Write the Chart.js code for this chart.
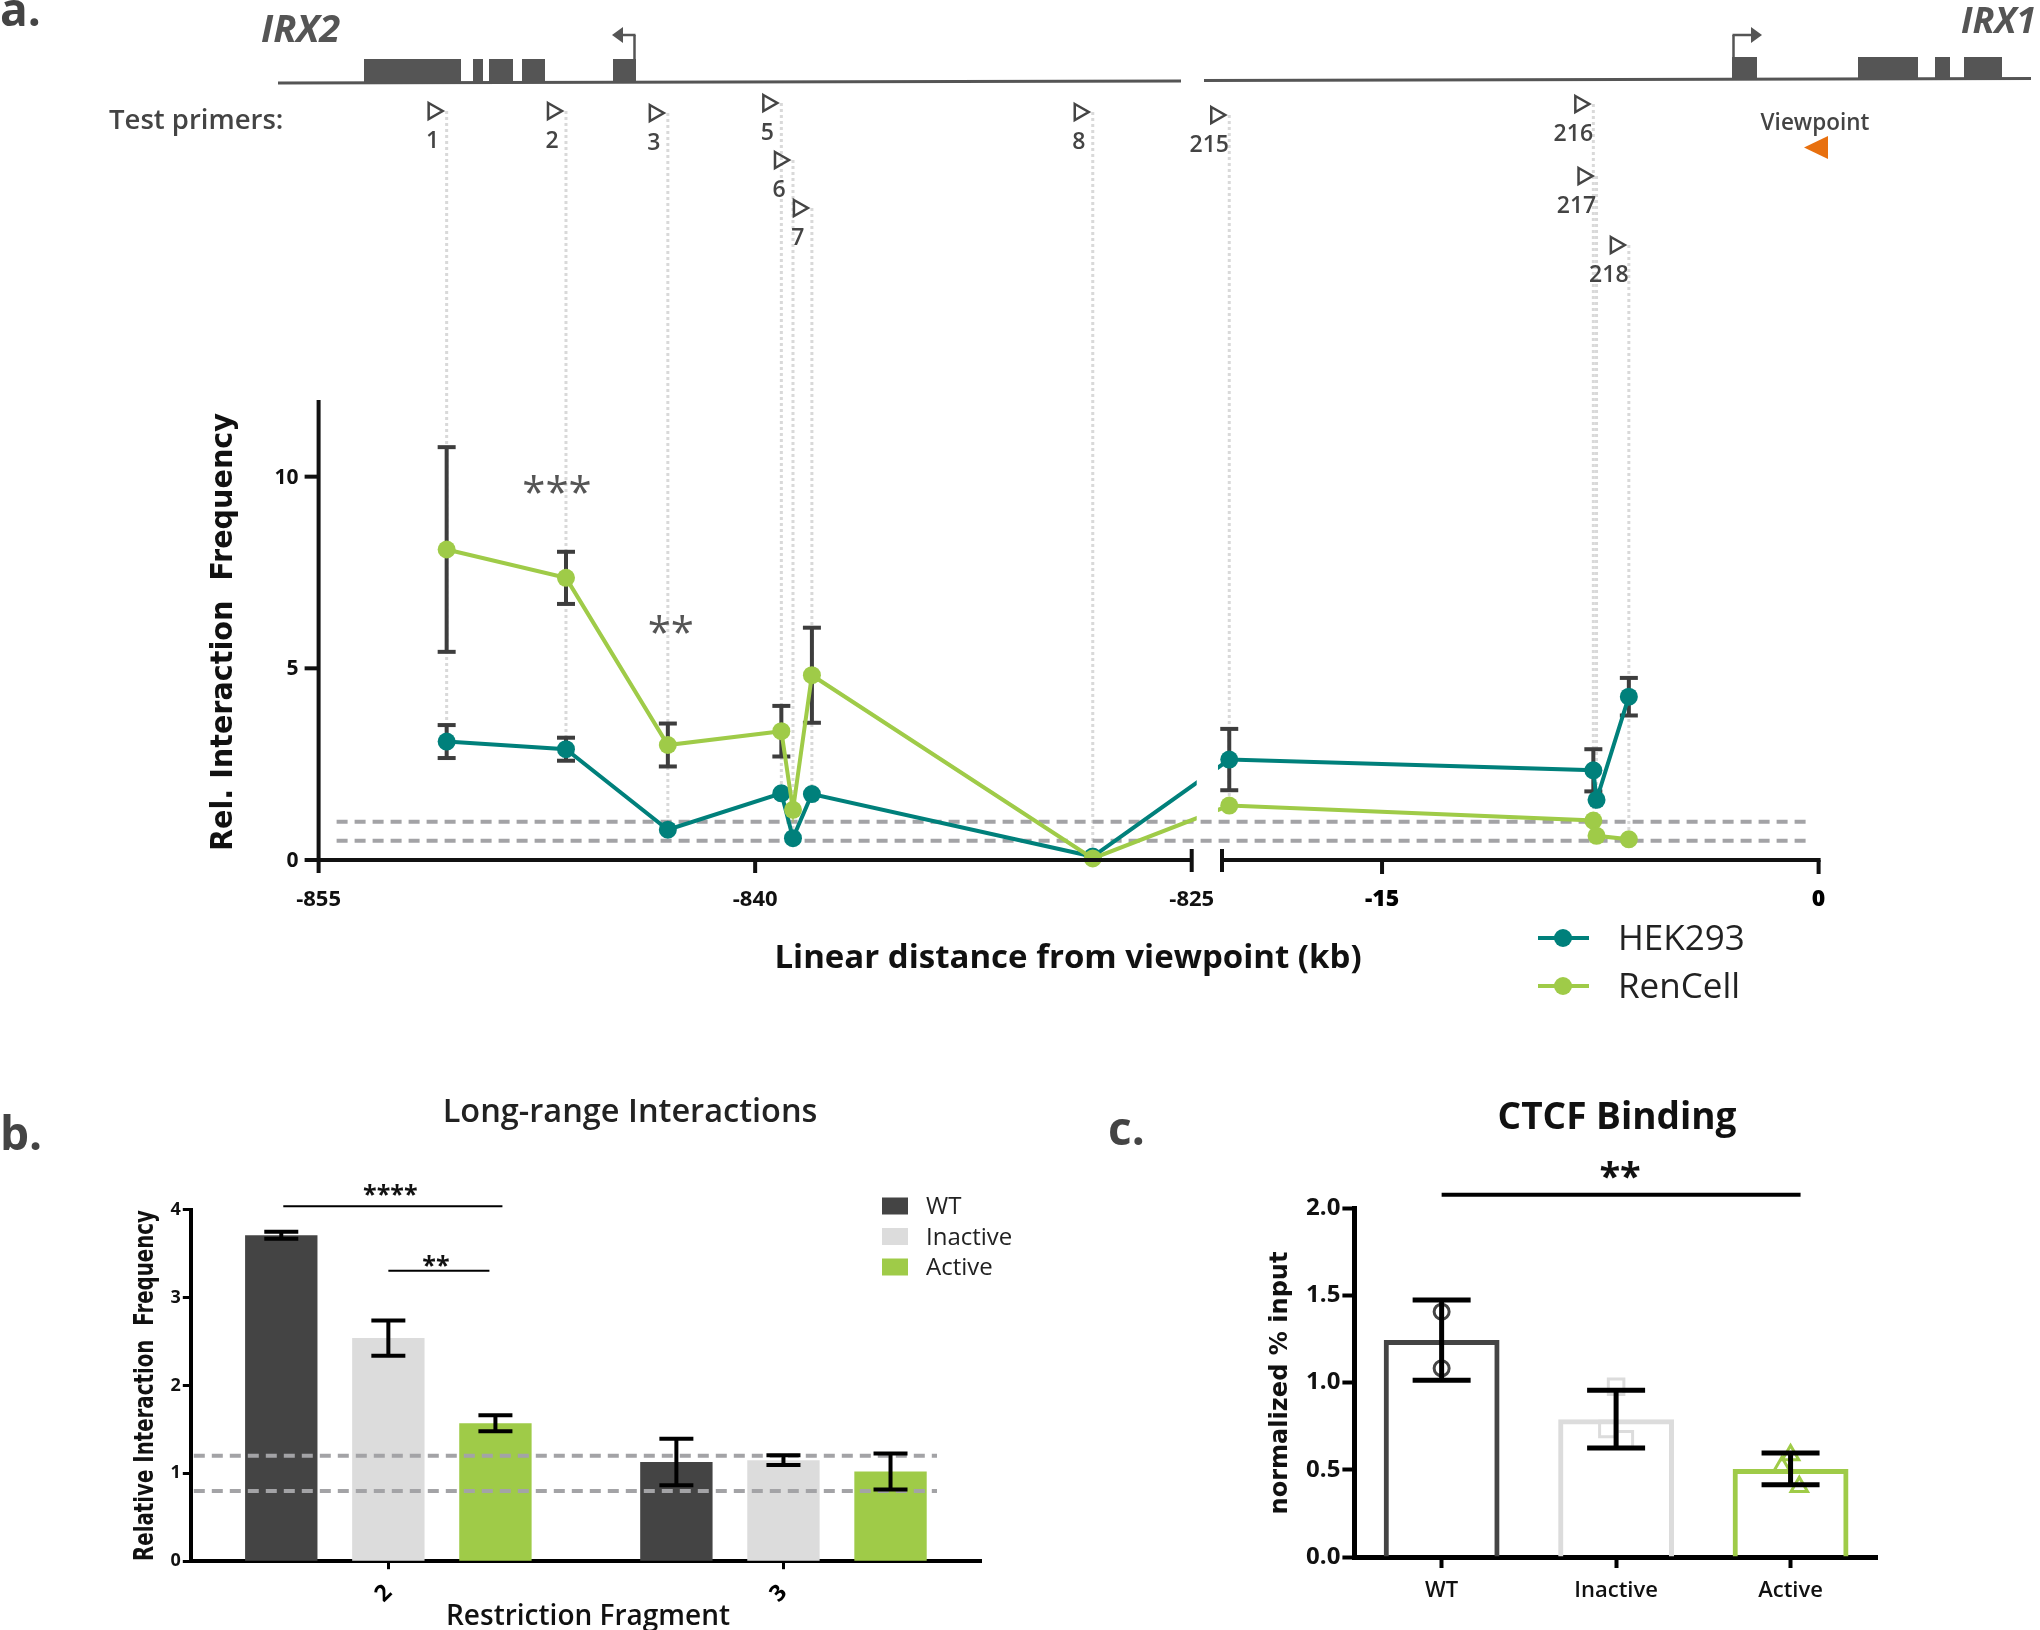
<!DOCTYPE html>
<html lang="en">
<head>
<meta charset="UTF-8">
<title>IRX2 - IRX1 long-range interactions</title>
<script src="https://cdn.jsdelivr.net/npm/chart.js"></script>
<style>
  body { margin: 0; background: #fff; }
  #page { position: relative; width: 2040px; height: 1630px; overflow: hidden; background: #fff; }
  .box { position: absolute; }
</style>
</head>
<body>
<div id="page">
  <div class="box" style="left:0;top:0;width:2040px;height:1010px"><canvas id="chartA"></canvas></div>
  <div class="box" style="left:0;top:1040px;width:1060px;height:590px"><canvas id="chartB"></canvas></div>
  <div class="box" style="left:1080px;top:1040px;width:960px;height:590px"><canvas id="chartC"></canvas></div>
</div>

<script>
// ---------------- data: panel a (3C, rel. interaction frequency) ----------------
const primerNames = ['1', '2', '3', '5', '6', '7', '8', '215', '216', '217', '218'];
const primerKb = [-850.6, -846.5, -843.0, -839.1, -838.7, -838.05, -828.4, -20.25, -7.74, -7.63, -6.52];
const hekMean = [3.09, 2.89, 0.79, 1.74, 0.57, 1.72, 0.09, 2.62, 2.34, 1.57, 4.26];
const hekSem = [0.43, 0.30, 0, 0, 0, 0, 0, 0.80, 0.55, 0, 0.49];
const renMean = [8.10, 7.36, 3.00, 3.36, 1.31, 4.82, 0.04, 1.42, 1.03, 0.63, 0.54];
const renSem = [2.67, 0.68, 0.56, 0.66, 0, 1.24, 0, 0, 0, 0, 0];
const bgLevelsA = [1.0, 0.5];
const xTicksLeft = [-855, -840, -825];
const xTicksRight = [-15, 0];
const yTicksA = [0, 5, 10];
const sigA = [{ primer: 1, text: '***', y: 10 }, { primer: 2, text: '**', y: 6.33 }];

// ---------------- data: panel b (restriction fragments) ----------------
const fragments = ['2', '3'];
const wtFrag = [3.71, 1.13];
const wtFragSem = [0.04, 0.265];
const inactiveFrag = [2.54, 1.15];
const inactiveFragSem = [0.20, 0.055];
const activeFrag = [1.57, 1.02];
const activeFragSem = [0.09, 0.205];
const bgLevelsB = [1.2, 0.8];

// ---------------- data: panel c (CTCF ChIP) ----------------
const groups = ['WT', 'Inactive', 'Active'];
const ctcfMean = [1.243, 0.79, 0.505];
const ctcfSem = [0.23, 0.166, 0.091];
const wtReps = [1.406, 1.081];
const inactiveReps = [0.976, 0.733, 0.674];
const activeReps = [0.585, 0.517, 0.403];

// ---------------- look ----------------
const teal = '#00807b';
const green = '#9fcb48';
const wtGrey = '#444444';
const lightGrey = '#dcdcdc';
const OS = "'Open Sans', 'Liberation Sans', sans-serif";
const DV = "'DejaVu Sans', 'Liberation Sans', sans-serif";

// broken x axis of panel a: left part in kb, then a small gap, then the last ~20 kb
const leftSegment = [-855, -825];
const rightSegment = [-20.5, 0];
const breakGap = 1.04;
const toAxis = kb => kb >= rightSegment[0] ? leftSegment[1] + breakGap + (kb - rightSegment[0]) : kb;

// header rows of the primer triangles (px)
const primerRowY = [111, 111, 113, 103, 160, 208, 112, 115, 104, 176, 245];

function seg(ctx, x1, y1, x2, y2) {
  ctx.beginPath(); ctx.moveTo(x1, y1); ctx.lineTo(x2, y2); ctx.stroke();
}
function text(ctx, s, x, y, font, color, align, base) {
  ctx.font = font; ctx.fillStyle = color;
  ctx.textAlign = align || 'left'; ctx.textBaseline = base || 'alphabetic';
  ctx.fillText(s, x, y);
}
function rotTitle(ctx, s, cx, cy, font, color, length) {
  ctx.save();
  ctx.font = font; ctx.fillStyle = color;
  ctx.translate(cx, cy); ctx.rotate(-Math.PI / 2);
  const w = ctx.measureText(s).width;
  ctx.scale(length / w, 1);
  ctx.textAlign = 'center'; ctx.textBaseline = 'middle';
  ctx.fillText(s, 0, 0);
  ctx.restore();
}
function errBar(ctx, x, yTop, yBot, half) {
  seg(ctx, x, yTop, x, yBot);
  seg(ctx, x - half, yTop, x + half, yTop);
  seg(ctx, x - half, yBot, x + half, yBot);
}

// ---------------- panel a ----------------
function drawLevels(ctx, chart) {
  const ys = chart.scales.y;
  ctx.strokeStyle = '#a3a3a6'; ctx.lineWidth = 4; ctx.setLineDash([11, 7]);
  bgLevelsA.forEach(v => seg(ctx, chart.chartArea.left + 18, ys.getPixelForValue(v), 1808, ys.getPixelForValue(v)));
  ctx.setLineDash([]);
}

const panelA = {
  id: 'panelA',
  beforeDatasetsDraw(chart) {
    const ctx = chart.ctx, xs = chart.scales.x, ys = chart.scales.y;
    const px = kb => xs.getPixelForValue(toAxis(kb));
    ctx.save();
    // dotted guides from each primer down to its data
    ctx.strokeStyle = '#d9d9d9'; ctx.lineWidth = 3; ctx.setLineDash([3, 3]);
    primerKb.forEach((kb, i) => {
      seg(ctx, px(kb), primerRowY[i], px(kb), ys.getPixelForValue(Math.min(hekMean[i], renMean[i])));
    });
    drawLevels(ctx, chart);
    // error bars (SEM)
    ctx.strokeStyle = '#3d3d3d'; ctx.lineWidth = 4;
    [[hekMean, hekSem], [renMean, renSem]].forEach(([m, s]) => {
      m.forEach((v, i) => {
        if (!s[i]) return;
        errBar(ctx, px(primerKb[i]), ys.getPixelForValue(v + s[i]), ys.getPixelForValue(v - s[i]), 9);
      });
    });
    ctx.restore();
  },
  afterDatasetsDraw(chart) {
    const ctx = chart.ctx, xs = chart.scales.x, ys = chart.scales.y;
    const px = kb => xs.getPixelForValue(toAxis(kb));
    const y0 = ys.getPixelForValue(0), yTop = ys.getPixelForValue(12);
    const xl0 = px(leftSegment[0]), xl1 = px(leftSegment[1]);
    const xr0 = px(rightSegment[0]), xr1 = px(rightSegment[1]);
    ctx.save();

    // axis break: cut the lines in the gap, keep the dashed levels
    ctx.fillStyle = '#fff';
    ctx.fillRect(xl1 + 5, yTop, xr0 - 9 - xl1, y0 - 12 - yTop);
    ctx.save();
    ctx.beginPath(); ctx.rect(xl1 + 5, 0, xr0 - 9 - xl1, y0 - 12); ctx.clip();
    drawLevels(ctx, chart);
    ctx.restore();

    // axes
    ctx.strokeStyle = '#111'; ctx.lineWidth = 4; ctx.lineCap = 'butt';
    seg(ctx, xl0, yTop, xl0, y0 + 2);
    seg(ctx, xl0 - 2, y0, xl1, y0);
    seg(ctx, xr0, y0, xr1 + 2, y0);
    yTicksA.forEach(v => {
      const y = ys.getPixelForValue(v);
      seg(ctx, xl0 - 14, y, xl0, y);
      text(ctx, String(v), xl0 - 20, y + 7, 'bold 21px ' + OS, '#111', 'right');
    });
    xTicksLeft.forEach(v => {
      const x = px(v);
      if (v === leftSegment[1]) seg(ctx, x, y0 - 11, x, y0 + 12);
      else seg(ctx, x, y0, x, y0 + 13);
      text(ctx, String(v), x, y0 + 46, 'bold 22px ' + OS, '#111', 'center');
    });
    seg(ctx, xr0, y0 - 11, xr0, y0 + 12);
    xTicksRight.forEach(v => {
      const x = px(v);
      seg(ctx, x, y0, x, y0 + 14);
      text(ctx, String(v), x, y0 + 46, '800 23px ' + OS, '#000', 'center');
    });

    // axis titles
    rotTitle(ctx, 'Rel. Interaction  Frequency', 224, (yTop + y0) / 2 + 2, 'bold 31px ' + DV, '#111', 438);
    text(ctx, 'Linear distance from viewpoint (kb)', 1068, 968, 'bold 33px ' + OS, '#111', 'center');

    // significance stars
    sigA.forEach(s => {
      const dx = s.text.length === 3 ? -9 : 3;
      text(ctx, s.text, px(primerKb[s.primer]) + dx, ys.getPixelForValue(s.y) + 30, '42px ' + OS, '#555', 'center');
    });

    // legend
    [['HEK293', teal, 938], ['RenCell', green, 986]].forEach(([name, col, y]) => {
      ctx.strokeStyle = col; ctx.lineWidth = 4;
      seg(ctx, 1538, y, 1589, y);
      ctx.fillStyle = col; ctx.beginPath(); ctx.arc(1563, y, 9, 0, Math.PI * 2); ctx.fill();
      text(ctx, name, 1618, y + 12, '35px ' + OS, '#222', 'left');
    });

    // gene track
    ctx.strokeStyle = '#555'; ctx.fillStyle = '#555'; ctx.lineWidth = 3;
    seg(ctx, 278, 83, 1181, 81);
    seg(ctx, 1204, 80.5, 2031, 78.5);
    [[364, 461], [473, 483], [489, 513], [522, 545], [613, 636]].forEach(([a, b]) => ctx.fillRect(a, 59, b - a, 24));
    [[1732, 1757], [1858, 1918], [1935, 1950], [1964, 2002]].forEach(([a, b]) => ctx.fillRect(a, 57, b - a, 22));
    ctx.lineWidth = 2.5;
    seg(ctx, 634.5, 60, 634.5, 35); seg(ctx, 635.5, 35, 620, 35);
    ctx.beginPath(); ctx.moveTo(612, 35); ctx.lineTo(623, 27); ctx.lineTo(623, 43); ctx.closePath(); ctx.fill();
    seg(ctx, 1733.5, 57, 1733.5, 35); seg(ctx, 1732.5, 35, 1752, 35);
    ctx.beginPath(); ctx.moveTo(1762, 35); ctx.lineTo(1751, 27); ctx.lineTo(1751, 43); ctx.closePath(); ctx.fill();
    text(ctx, 'IRX2', 261, 42, 'italic bold 38px ' + OS, '#555', 'left');
    text(ctx, 'IRX1', 1961, 33, 'italic bold 36px ' + OS, '#555', 'left');
    text(ctx, 'a.', 0, 26, 'bold 46px ' + OS, '#444', 'left');

    // primers
    text(ctx, 'Test primers:', 109, 129, '600 27.5px ' + OS, '#444', 'left');
    ctx.strokeStyle = '#444'; ctx.lineWidth = 2.5; ctx.lineJoin = 'miter';
    primerKb.forEach((kb, i) => {
      const x = px(kb), y = primerRowY[i];
      ctx.beginPath(); ctx.moveTo(x - 18, y - 8); ctx.lineTo(x - 4, y); ctx.lineTo(x - 18, y + 8); ctx.closePath(); ctx.stroke();
      const lx = primerNames[i].length > 1 ? x - 20 : x - 14;
      text(ctx, primerNames[i], lx, y + 37, '600 23px ' + OS, '#444', 'center');
    });
    text(ctx, 'Viewpoint', 1815, 130, '600 22.5px ' + OS, '#444', 'center');
    ctx.fillStyle = '#e8700f';
    ctx.beginPath(); ctx.moveTo(1804, 147.5); ctx.lineTo(1828, 136); ctx.lineTo(1828, 159); ctx.closePath(); ctx.fill();
    ctx.restore();
  }
};

const lineSet = (label, vals, col, order) => ({
  label, order,
  data: primerKb.map((kb, i) => ({ x: toAxis(kb), y: vals[i] })),
  borderColor: col, backgroundColor: col, pointBackgroundColor: col,
  borderWidth: 4, pointRadius: 9, pointHoverRadius: 9, pointBorderWidth: 0,
  tension: 0, clip: false
});

new Chart(document.getElementById('chartA'), {
  type: 'line',
  data: { datasets: [lineSet('HEK293', hekMean, teal, 2), lineSet('RenCell', renMean, green, 1)] },
  options: {
    responsive: true, maintainAspectRatio: false, animation: false, events: [],
    layout: { padding: { left: 318.6, right: 221.4, top: 400, bottom: 150 } },
    plugins: { legend: { display: false }, tooltip: { enabled: false } },
    scales: {
      x: { type: 'linear', display: false, min: leftSegment[0], max: toAxis(rightSegment[1]) },
      y: { type: 'linear', display: false, min: 0, max: 12 }
    }
  },
  plugins: [panelA]
});

// ---------------- panel b ----------------
const panelB = {
  id: 'panelB',
  afterDatasetsDraw(chart) {
    const ctx = chart.ctx, ys = chart.scales.y, area = chart.chartArea;
    ctx.save();
    ctx.strokeStyle = '#a3a3a6'; ctx.lineWidth = 4; ctx.setLineDash([11, 7]);
    bgLevelsB.forEach(v => seg(ctx, area.left + 3, ys.getPixelForValue(v), area.right - 44, ys.getPixelForValue(v)));
    ctx.setLineDash([]);
    ctx.strokeStyle = '#000'; ctx.lineWidth = 4;
    [[wtFrag, wtFragSem], [inactiveFrag, inactiveFragSem], [activeFrag, activeFragSem]].forEach(([m, s], d) => {
      chart.getDatasetMeta(d).data.forEach((bar, i) => {
        errBar(ctx, bar.x, ys.getPixelForValue(m[i] + s[i]), ys.getPixelForValue(m[i] - s[i]), 17);
      });
    });
    // significance brackets
    const wt2 = chart.getDatasetMeta(0).data[0].x, in2 = chart.getDatasetMeta(1).data[0].x, ac2 = chart.getDatasetMeta(2).data[0].x;
    ctx.lineWidth = 2;
    seg(ctx, wt2 + 2, 166.3, ac2 + 7, 166.3);
    text(ctx, '****', (wt2 + ac2) / 2 + 2, 163, 'bold 25px ' + OS, '#111', 'center');
    seg(ctx, in2, 230.8, ac2 - 6, 230.8);
    text(ctx, '**', (in2 + ac2) / 2 - 6, 234, 'bold 25px ' + OS, '#111', 'center');
    // legend
    [['WT', wtGrey], ['Inactive', lightGrey], ['Active', green]].forEach(([n, c], i) => {
      const y = 166 + i * 30.5;
      ctx.fillStyle = c; ctx.fillRect(882, y - 8.5, 26, 17);
      text(ctx, n, 926, y + 8, '24px ' + OS, '#222', 'left');
    });
    text(ctx, 'Long-range Interactions', 630, 82, '600 32.5px ' + OS, '#222', 'center');
    text(ctx, 'b.', 0, 110, 'bold 46px ' + OS, '#444', 'left');
    rotTitle(ctx, 'Relative Interaction  Frequency', 146, (area.top + area.bottom) / 2, 'bold 26px ' + DV, '#111', 351);
    text(ctx, 'Restriction Fragment', 588, 585, '600 28px ' + OS, '#111', 'center');
    ctx.restore();
  }
};

new Chart(document.getElementById('chartB'), {
  type: 'bar',
  data: {
    labels: fragments,
    datasets: [
      { label: 'WT', data: wtFrag, backgroundColor: wtGrey },
      { label: 'Inactive', data: inactiveFrag, backgroundColor: lightGrey },
      { label: 'Active', data: activeFrag, backgroundColor: green }
    ]
  },
  options: {
    responsive: true, maintainAspectRatio: false, animation: false, events: [],
    categoryPercentage: 0.813, barPercentage: 0.676,
    layout: { padding: { left: 120.8, right: 79, top: 169.8, bottom: 0 } },
    plugins: { legend: { display: false }, tooltip: { enabled: false } },
    scales: {
      x: {
        afterFit: s => { s.height = 68.8; },
        grid: { display: true, drawOnChartArea: false, offset: false, tickLength: 8, tickWidth: 3, tickColor: '#000' },
        border: { display: true, color: '#000', width: 4 },
        ticks: { font: { family: OS, size: 23, weight: 'bold' }, color: '#000', minRotation: 45, maxRotation: 45, padding: 10 }
      },
      y: {
        min: 0, max: 4,
        afterFit: s => { s.width = 70; },
        grid: { display: true, drawOnChartArea: false, tickLength: 8, tickWidth: 3, tickColor: '#000' },
        border: { display: true, color: '#000', width: 4 },
        ticks: { stepSize: 1, font: { family: OS, size: 18, weight: 'bold' }, color: '#111', padding: 2 }
      }
    }
  },
  plugins: [panelB]
});

// ---------------- panel c ----------------
const panelC = {
  id: 'panelC',
  afterDatasetsDraw(chart) {
    const ctx = chart.ctx, ys = chart.scales.y;
    const bars = chart.getDatasetMeta(0).data;
    ctx.save();
    ctx.strokeStyle = '#000'; ctx.lineWidth = 5;
    bars.forEach((b, i) => {
      errBar(ctx, b.x, ys.getPixelForValue(ctcfMean[i] + ctcfSem[i]), ys.getPixelForValue(ctcfMean[i] - ctcfSem[i]), 29);
    });
    ctx.lineWidth = 4;
    seg(ctx, bars[0].x, 154.7, bars[2].x + 10, 154.7);
    text(ctx, '**', (bars[0].x + bars[2].x) / 2 + 4, 150, 'bold 38px ' + OS, '#111', 'center');
    text(ctx, 'CTCF Binding', 537, 89, 'bold 37px ' + OS, '#111', 'center');
    text(ctx, 'c.', 28, 105, 'bold 46px ' + OS, '#444', 'left');
    rotTitle(ctx, 'normalized % input', 201, 343, 'bold 24px ' + DV, '#111', 263);
    ctx.restore();
  }
};

const reps = (vals, jitter, style, col, r) => ({
  type: 'scatter', xAxisID: 'xj', order: 1,
  data: vals.map((v, k) => ({ x: jitter[k], y: v })),
  pointStyle: style, pointRadius: r, pointHoverRadius: r, pointBorderWidth: 3,
  pointBorderColor: col, pointBackgroundColor: 'rgba(0,0,0,0)', borderColor: col
});

new Chart(document.getElementById('chartC'), {
  type: 'bar',
  data: {
    labels: groups,
    datasets: [
      { label: 'CTCF', data: ctcfMean, order: 2, grouped: false, backgroundColor: 'rgba(255,255,255,0)', borderColor: [wtGrey, lightGrey, green], borderWidth: 5 },
      reps(wtReps, [0, 0], 'circle', wtGrey, 7.5),
      reps(inactiveReps, [1, 0.95, 1.05], 'rect', lightGrey, 11),
      reps(activeReps, [2, 1.95, 2.05], 'triangle', green, 9.5)
    ]
  },
  options: {
    responsive: true, maintainAspectRatio: false, animation: false, events: [],
    categoryPercentage: 1, barPercentage: 0.664,
    layout: { padding: { left: 194.4, right: 162.2, top: 168, bottom: 0 } },
    plugins: { legend: { display: false }, tooltip: { enabled: false } },
    scales: {
      x: {
        afterFit: s => { s.height = 73; },
        grid: { display: true, drawOnChartArea: false, offset: false, tickLength: 11, tickWidth: 4, tickColor: '#000' },
        border: { display: true, color: '#000', width: 5 },
        ticks: { font: { family: OS, size: 22, weight: '600' }, color: '#111', padding: 10 }
      },
      xj: { type: 'linear', display: false, offset: false, min: -0.5, max: 2.5 },
      y: {
        min: 0, max: 2,
        afterFit: s => { s.width = 80; },
        grid: { display: true, drawOnChartArea: false, tickLength: 12, tickWidth: 4, tickColor: '#000' },
        border: { display: true, color: '#000', width: 5 },
        ticks: { stepSize: 0.5, callback: v => v.toFixed(1), font: { family: OS, size: 24, weight: 'bold' }, color: '#111', padding: 2 }
      }
    }
  },
  plugins: [panelC]
});
</script>
</body>
</html>
